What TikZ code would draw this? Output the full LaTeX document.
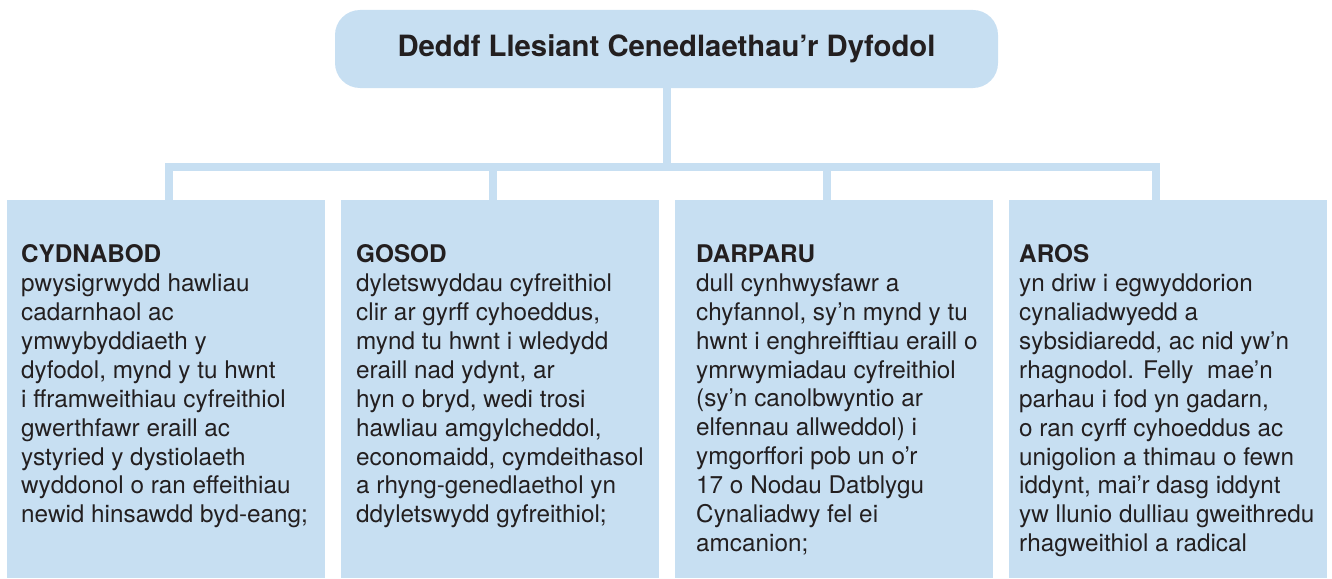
\documentclass[tikz,border=0pt]{standalone}
\usepackage{fontspec}
\setmainfont{TeX Gyre Heros}
\usepackage{tikz}
\usetikzlibrary{positioning,calc}
\definecolor{panel}{HTML}{C7DFF2}
\definecolor{ink}{HTML}{231F20}
\tikzset{
  titlebox/.style={fill=panel,draw=none,rounded corners=25pt,minimum width=663pt,minimum height=78pt,inner sep=0pt,text=ink,font=\fontsize{29.3}{34}\selectfont\bfseries},
  panelbox/.style={fill=panel,draw=none,minimum width=318pt,minimum height=378pt,inner sep=0pt,anchor=north west},
  paneltext/.style={anchor=north west,inner sep=0pt,align=left,text=ink,font=\fontsize{24.3}{28.9}\selectfont},
  link/.style={draw=panel,line width=8pt}
}

\begin{document}
\begin{tikzpicture}[x=1pt,y=-1pt]
  \useasboundingbox (0,0) rectangle (1332,578);
  % title
  \node[titlebox] (title) at (666.5,49) {Deddf Llesiant Cenedlaethau’r Dyfodol};
  % panels
  \node[panelbox] (cyd) at (7,200) {};
  \node[panelbox] (gos) at (341,200) {};
  \node[panelbox] (dar) at (675,200) {};
  \node[panelbox] (aros) at (1009,200) {};
  % connectors
  \coordinate (bar) at (0,167);
  \coordinate (d1) at ([xshift=3pt]cyd.north);
  \coordinate (d2) at ([xshift=-7pt]gos.north);
  \coordinate (d3) at ([xshift=-7pt]dar.north);
  \coordinate (d4) at ([xshift=-12pt]aros.north);
  \draw[link] (title.south) -- (title.south |- bar);
  \draw[link] (d1) |- (bar -| d4) -- (d4);
  \draw[link] (d2) -- (d2 |- bar);
  \draw[link] (d3) -- (d3 |- bar);
  % panel texts
  \node[paneltext] (cydtxt) at ($(cyd.north west)+(14,44.5)$) {\textbf{CYDNABOD}\\
    pwysigrwydd hawliau\\ cadarnhaol ac\\ ymwybyddiaeth y\\ dyfodol, mynd y tu hwnt\\
    i fframweithiau cyfreithiol\\ gwerthfawr eraill ac\\ ystyried y dystiolaeth\\
    wyddonol o ran effeithiau\\ newid hinsawdd byd-eang;};
  \node[paneltext] (gostxt) at ($(gos.north west)+(15,44.5)$) {\textbf{GOSOD}\\
    dyletswyddau cyfreithiol\\ clir ar gyrff cyhoeddus,\\ mynd tu hwnt i wledydd\\
    eraill nad ydynt, ar\\ hyn o bryd, wedi trosi\\ hawliau amgylcheddol,\\
    economaidd, cymdeithasol\\ a rhyng-genedlaethol yn\\ ddyletswydd gyfreithiol;};
  \node[paneltext] (dartxt) at ($(dar.north west)+(21,44.5)$) {\textbf{DARPARU}\\
    dull cynhwysfawr a\\ chyfannol, sy’n mynd y tu\\ hwnt i enghreifftiau eraill o\\
    ymrwymiadau cyfreithiol\\ (sy’n canolbwyntio ar\\ elfennau allweddol) i\\
    ymgorffori pob un o’r\\ 17 o Nodau Datblygu\\ Cynaliadwy fel ei\\ amcanion;};
  \node[paneltext] (arostxt) at ($(aros.north west)+(10,44.5)$) {\textbf{AROS}\\
    yn driw i egwyddorion\\ cynaliadwyedd a\\ sybsidiaredd, ac nid yw’n\\
    rhagnodol. Felly~ mae’n\\ parhau i fod yn gadarn,\\ o ran cyrff cyhoeddus ac\\
    unigolion a thimau o fewn\\ iddynt, mai’r dasg iddynt\\ yw llunio dulliau gweithredu\\
    rhagweithiol a radical};
\end{tikzpicture}
\end{document}
